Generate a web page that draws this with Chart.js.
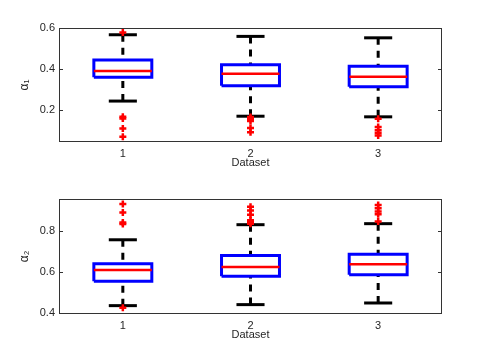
<!DOCTYPE html>
<html>
<head>
<meta charset="utf-8">
<script src="https://cdn.jsdelivr.net/npm/chart.js@4"></script>
<style>
  body { margin: 0; background: #fff; }
  canvas { display: block; }
</style>
</head>
<body>
<canvas id="alpha1Chart" width="485" height="182"></canvas>
<canvas id="alpha2Chart" width="485" height="182"></canvas>
<script>
const datasetLabels = [1, 2, 3];
const xTicks = [1, 2, 3];

// alpha_1
const a1Q1 = [0.359, 0.318, 0.313];
const a1Median = [0.390, 0.377, 0.362];
const a1Q3 = [0.444, 0.421, 0.413];
const a1Low = [0.243, 0.169, 0.166];
const a1High = [0.567, 0.559, 0.552];
const a1Outliers = [
  [0.578, 0.166, 0.158, 0.109, 0.069],
  [0.165, 0.156, 0.146, 0.112, 0.091],
  [0.157, 0.116, 0.101, 0.087, 0.075],
];
const a1Ticks = [0.2, 0.4, 0.6];

// alpha_2
const a2Q1 = [0.556, 0.580, 0.587];
const a2Median = [0.611, 0.626, 0.639];
const a2Q3 = [0.641, 0.682, 0.688];
const a2Low = [0.436, 0.441, 0.449];
const a2High = [0.759, 0.833, 0.838];
const a2Outliers = [
  [0.934, 0.893, 0.844, 0.836, 0.426],
  [0.921, 0.902, 0.882, 0.855, 0.845, 0.838],
  [0.929, 0.914, 0.898, 0.884, 0.849],
];
const a2Ticks = [0.4, 0.6, 0.8];

const FONT = "'Liberation Sans', Arial, Helvetica, sans-serif";
const TEXT = "#262626";
const BOX_HALF = 0.227;
const CAP_HALF = 0.11;

const axesBox = {
  id: "axesBox",
  afterDraw(chart) {
    const { ctx, chartArea: a, scales } = chart;
    ctx.save();
    ctx.strokeStyle = "#333";
    ctx.lineWidth = 1;
    ctx.strokeRect(a.left + 0.5, a.top + 0.5, a.right - a.left - 1, a.bottom - a.top - 1);
    scales.y.ticks.forEach((t) => {
      const py = Math.round(scales.y.getPixelForValue(t.value)) + 0.5;
      ctx.beginPath();
      ctx.moveTo(a.left, py);
      ctx.lineTo(a.left + 4, py);
      ctx.moveTo(a.right, py);
      ctx.lineTo(a.right - 4, py);
      ctx.stroke();
    });
    ctx.restore();
  },
};

function line(points, color, width, order, dash) {
  return {
    data: points,
    showLine: true,
    borderColor: color,
    borderWidth: width,
    borderDash: dash || [],
    pointRadius: 0,
    pointHoverRadius: 0,
    fill: false,
    order,
  };
}

function buildDatasets(q1, med, q3, low, high, outliers) {
  const sets = [];
  datasetLabels.forEach((x, i) => {
    sets.push(line([
      { x: x - BOX_HALF, y: q1[i] }, { x: x + BOX_HALF, y: q1[i] },
      { x: x + BOX_HALF, y: q3[i] }, { x: x - BOX_HALF, y: q3[i] },
      { x: x - BOX_HALF, y: q1[i] },
    ], "#0000ff", 3, 2));
    sets.push(line([{ x: x - BOX_HALF, y: med[i] }, { x: x + BOX_HALF, y: med[i] }], "#ff0000", 2.5, 1));
    sets.push(line([{ x, y: high[i] }, { x, y: q3[i] }], "#000", 3, 4, [7, 6]));
    sets.push(line([{ x, y: low[i] }, { x, y: q1[i] }], "#000", 3, 4, [7, 6]));
    sets.push(line([{ x: x - CAP_HALF, y: high[i] }, { x: x + CAP_HALF, y: high[i] }], "#000", 3, 3));
    sets.push(line([{ x: x - CAP_HALF, y: low[i] }, { x: x + CAP_HALF, y: low[i] }], "#000", 3, 3));
    sets.push({
      data: outliers[i].map((v) => ({ x, y: v })),
      showLine: false,
      pointStyle: "cross",
      pointRadius: 3.5,
      pointHoverRadius: 3.5,
      borderColor: "#ff0000",
      borderWidth: 2.5,
      order: 0,
    });
  });
  return sets;
}

function drawBoxChart(canvasId, sets, yMin, yMax, yTicks, yTitle, pad, xAxisHeight, titlePad) {
  return new Chart(document.getElementById(canvasId), {
    type: "scatter",
    data: { datasets: sets },
    options: {
      responsive: false,
      animation: false,
      events: [],
      layout: { padding: { left: 0, right: 43, top: pad, bottom: 0 } },
      plugins: { legend: { display: false }, tooltip: { enabled: false } },
      scales: {
        x: {
          type: "linear",
          min: 0.5,
          max: 3.5,
          afterBuildTicks: (s) => { s.ticks = xTicks.map((v) => ({ value: v })); },
          afterFit: (s) => { s.height = xAxisHeight; },
          grid: { display: false, drawTicks: false },
          border: { display: false },
          ticks: { padding: 5, color: TEXT, font: { family: FONT, size: 11 }, callback: (v) => String(v) },
          title: { display: true, text: "Dataset", color: TEXT, font: { family: FONT, size: 11 }, padding: { top: 0, bottom: titlePad } },
        },
        y: {
          type: "linear",
          min: yMin,
          max: yMax,
          afterBuildTicks: (s) => { s.ticks = yTicks.map((v) => ({ value: v })); },
          afterFit: (s) => { s.width = 59; },
          grid: { display: false, drawTicks: false },
          border: { display: false },
          ticks: { padding: 4, color: TEXT, font: { family: FONT, size: 11 }, callback: (v) => v.toFixed(1) },
          title: { display: true, text: yTitle, color: TEXT, font: { family: FONT, size: 12 }, padding: { top: 17, bottom: 0 } },
        },
      },
    },
    plugins: [axesBox],
  });
}

drawBoxChart("alpha1Chart", buildDatasets(a1Q1, a1Median, a1Q3, a1Low, a1High, a1Outliers),
  0.043, 0.6, a1Ticks, "α₁", 28, 40, 12);
drawBoxChart("alpha2Chart", buildDatasets(a2Q1, a2Median, a2Q3, a2Low, a2High, a2Outliers),
  0.395, 0.959, a2Ticks, "α₂", 17, 50, 22);
</script>
</body>
</html>
